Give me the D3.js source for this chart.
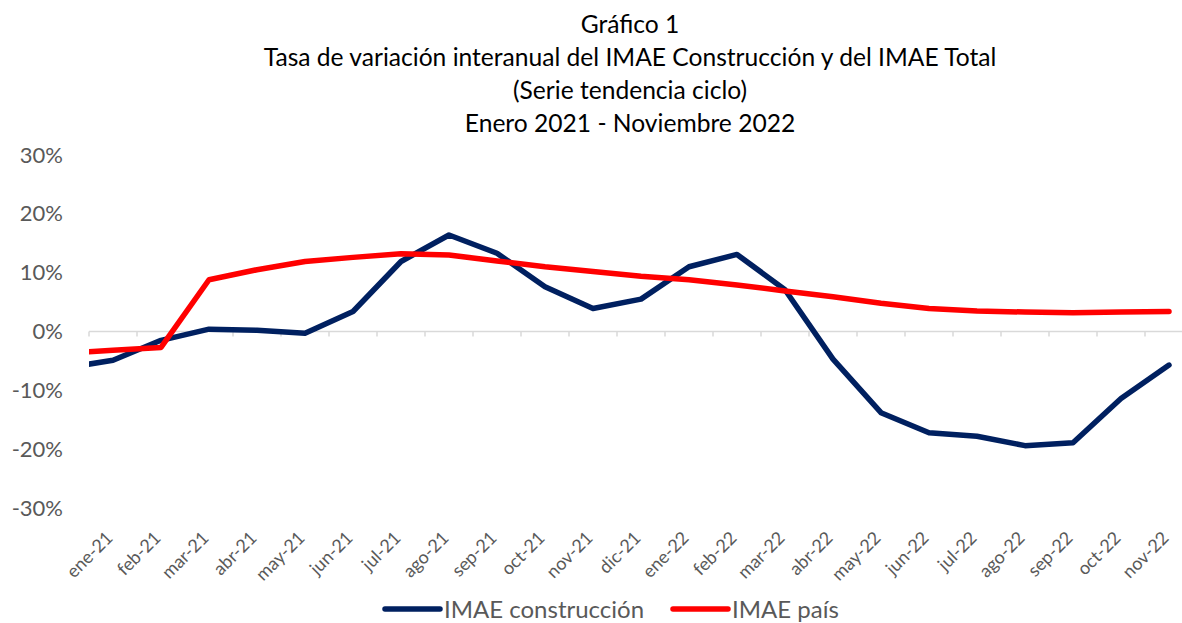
<!DOCTYPE html>
<html>
<head>
<meta charset="utf-8">
<script src="https://cdn.jsdelivr.net/npm/d3@7"></script>
<style>
  html, body { margin: 0; padding: 0; background: #ffffff; }
  svg { display: block; font-family: Lato, "Liberation Sans", sans-serif; }
</style>
</head>
<body>
<div id="chart"></div>
<script>
// Month labels. dic-20 sits left of the plot edge and only its clipped stub shows.
const months = ['dic-20', 'ene-21', 'feb-21', 'mar-21', 'abr-21', 'may-21', 'jun-21', 'jul-21',
    'ago-21', 'sep-21', 'oct-21', 'nov-21', 'dic-21', 'ene-22', 'feb-22', 'mar-22',
    'abr-22', 'may-22', 'jun-22', 'jul-22', 'ago-22', 'sep-22', 'oct-22', 'nov-22'];

// Year-on-year change, percent
const construccion = [-6.2, -4.9, -1.5, 0.4, 0.2, -0.3, 3.4, 11.9,
    16.4, 13.3, 7.6, 3.9, 5.5, 11.0, 13.1, 7.1,
    -4.7, -13.8, -17.2, -17.8, -19.4, -18.9, -11.4, -5.7];
const pais = [-3.7, -3.2, -2.7, 8.8, 10.5, 11.9, 12.6, 13.2,
    13.0, 12.0, 11.0, 10.2, 9.4, 8.8, 7.9, 6.9,
    5.9, 4.8, 3.9, 3.5, 3.3, 3.2, 3.3, 3.4];

const yTicks = [-30, -20, -10, 0, 10, 20, 30];

const titleLines = ['Gráfico 1',
    'Tasa de variación interanual del IMAE Construcción y del IMAE Total',
    '(Serie tendencia ciclo)',
    'Enero 2021 - Noviembre 2022'];

const series = [
    { name: 'IMAE construcción', values: construccion, color: '#002060' },
    { name: 'IMAE país', values: pais, color: '#ff0000' }
];

const W = 1182, H = 623;
const textColor = '#595959';
const margin = { left: 89, top: 155 };
const plotWidth = 1104;   // runs past the right edge of the picture, as in the source
const plotHeight = 353;

const svg = d3.select('#chart')
    .append('svg')
    .attr('width', W)
    .attr('height', H);

// Title
svg.append('g')
    .selectAll('text')
    .data(titleLines)
    .enter()
    .append('text')
    .attr('x', 630)
    .attr('y', (d, i) => 33 + i * 33)
    .attr('text-anchor', 'middle')
    .attr('fill', '#000000')
    .style('font-size', '24.6px')
    .text(d => d);

const xScale = d3.scaleLinear()
    .domain([0.5, months.length - 0.5])
    .range([margin.left, margin.left + plotWidth]);

const yScale = d3.scaleLinear()
    .domain([-30, 30])
    .range([margin.top + plotHeight, margin.top]);

// Y axis labels (no axis line)
svg.append('g')
    .attr('transform', `translate(${margin.left}, 0)`)
    .call(d3.axisLeft(yScale)
        .tickValues(yTicks)
        .tickSize(0)
        .tickPadding(26)
        .tickFormat(d => d + '%'))
    .call(g => g.select('.domain').remove())
    .selectAll('text')
    .attr('fill', textColor)
    .style('font-size', '22px')
    .style('font-family', 'Lato, "Liberation Sans", sans-serif');

// Category axis along zero, ticks between months
const boundaries = d3.range(0.5, months.length, 1);
const xAxis = svg.append('g');
xAxis.append('line')
    .attr('x1', xScale(0.5))
    .attr('x2', xScale(months.length - 0.5))
    .attr('y1', yScale(0))
    .attr('y2', yScale(0))
    .attr('stroke', '#d9d9d9')
    .attr('stroke-width', 1.5);
xAxis.selectAll('.tick')
    .data(boundaries)
    .enter()
    .append('line')
    .attr('class', 'tick')
    .attr('x1', d => xScale(d))
    .attr('x2', d => xScale(d))
    .attr('y1', yScale(0))
    .attr('y2', yScale(0) + 5)
    .attr('stroke', '#d9d9d9')
    .attr('stroke-width', 1.5);

// Month labels at the bottom of the plot, rotated
svg.append('g')
    .selectAll('text')
    .data(months.slice(1))
    .enter()
    .append('text')
    .attr('transform', (d, i) => `translate(${xScale(i + 1) + 1}, 539) rotate(-45)`)
    .attr('text-anchor', 'end')
    .attr('fill', textColor)
    .style('font-size', '18px')
    .text(d => d);

// Lines, clipped to the plot area
svg.append('clipPath')
    .attr('id', 'plot-clip')
    .append('rect')
    .attr('x', margin.left)
    .attr('y', 0)
    .attr('width', plotWidth)
    .attr('height', H);

const line = d3.line()
    .x((d, i) => xScale(i))
    .y(d => yScale(d));

svg.append('g')
    .attr('clip-path', 'url(#plot-clip)')
    .selectAll('path')
    .data(series)
    .enter()
    .append('path')
    .attr('fill', 'none')
    .attr('stroke', d => d.color)
    .attr('stroke-width', 5.5)
    .attr('stroke-linejoin', 'round')
    .attr('stroke-linecap', 'round')
    .attr('d', d => line(d.values));

// Legend
const legendItems = [
    { s: series[0], x: 385 },
    { s: series[1], x: 673 }
];
const legend = svg.append('g')
    .attr('transform', 'translate(0, 609)');
legendItems.forEach(item => {
    legend.append('line')
        .attr('x1', item.x)
        .attr('x2', item.x + 55)
        .attr('y1', 0)
        .attr('y2', 0)
        .attr('stroke', item.s.color)
        .attr('stroke-width', 5.5)
        .attr('stroke-linecap', 'round');
    legend.append('text')
        .attr('x', item.x + 59)
        .attr('y', 0)
        .attr('dy', '0.36em')
        .attr('fill', textColor)
        .style('font-size', '24px')
        .text(item.s.name);
});
</script>
</body>
</html>
